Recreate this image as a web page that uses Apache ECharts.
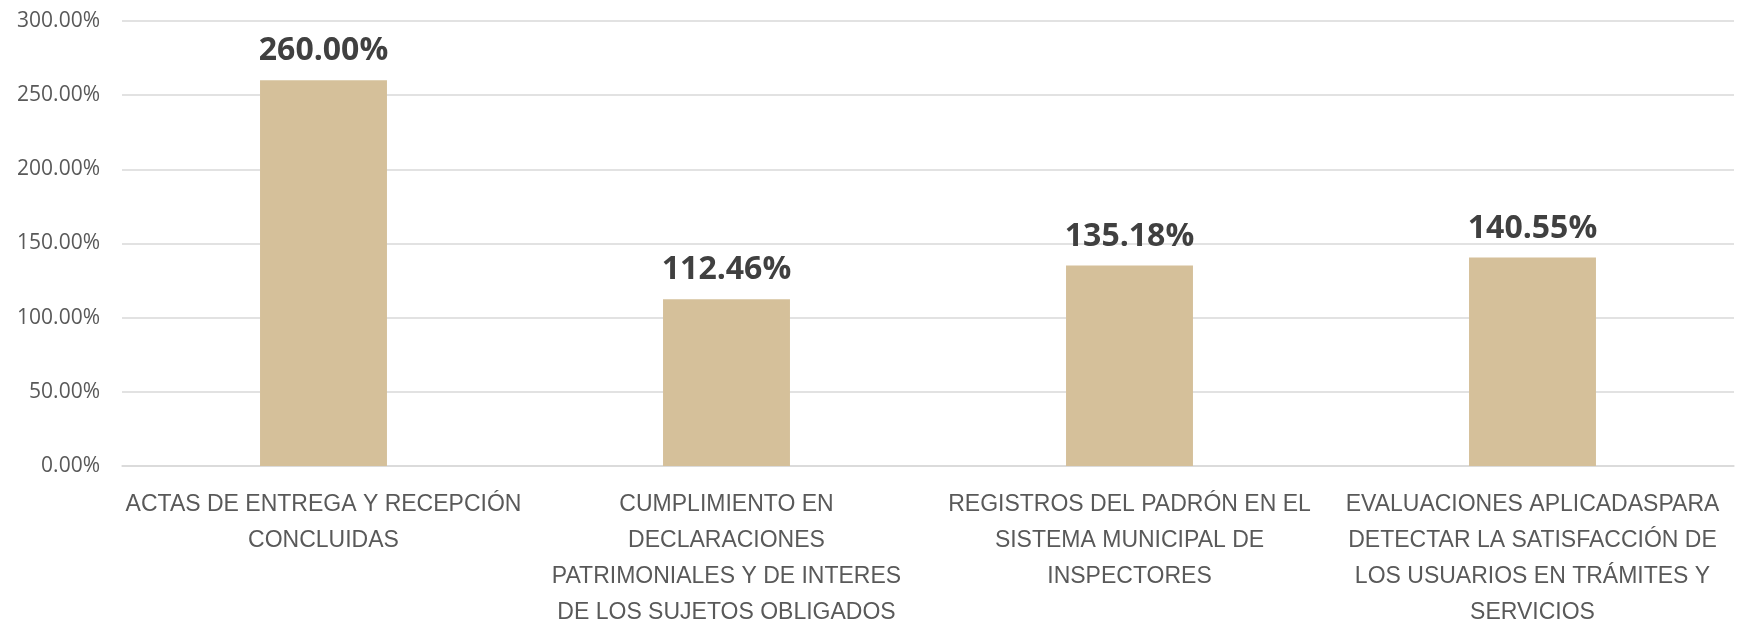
<!DOCTYPE html>
<html>
<head>
<meta charset="utf-8">
<script src="https://cdn.jsdelivr.net/npm/echarts@6/dist/echarts.min.js"></script>
<style>
  html, body { margin: 0; padding: 0; background: #fff; }
  #chart { width: 1737px; height: 622px; }
</style>
</head>
<body>
<div id="chart"></div>
<script>
const categories = [
  "ACTAS DE ENTREGA Y RECEPCIÓN\nCONCLUIDAS",
  "CUMPLIMIENTO EN\nDECLARACIONES\nPATRIMONIALES Y DE INTERES\nDE LOS SUJETOS OBLIGADOS",
  "REGISTROS DEL PADRÓN EN EL\nSISTEMA MUNICIPAL DE\nINSPECTORES",
  "EVALUACIONES APLICADASPARA\nDETECTAR LA SATISFACCIÓN DE\nLOS USUARIOS EN TRÁMITES Y\nSERVICIOS"
];
const values = [260.0, 112.46, 135.18, 140.55];

const chart = echarts.init(document.getElementById("chart"));

const option = {
  animation: false,
  grid: {
    left: 122,
    right: 3,
    top: 21,
    bottom: 156,
    outerBoundsMode: "none"
  },
  xAxis: {
    type: "category",
    data: categories,
    axisTick: { show: false },
    axisLine: { lineStyle: { color: "#d9d9d9", width: 1.5 } },
    axisLabel: {
      interval: 0,
      margin: 21,
      color: "#595959",
      fontFamily: "Liberation Sans, sans-serif",
      fontSize: 23,
      lineHeight: 36,
      align: "center"
    }
  },
  yAxis: {
    type: "value",
    min: 0,
    max: 300,
    interval: 50,
    axisLine: { show: false },
    axisTick: { show: false },
    splitLine: { lineStyle: { color: "#d9d9d9", width: 1.5 } },
    axisLabel: {
      margin: 22,
      color: "#595959",
      fontFamily: "Open Sans, sans-serif",
      fontSize: 21,
      formatter: (v) => v.toFixed(2) + "%"
    }
  },
  series: [
    {
      type: "bar",
      data: values,
      barWidth: "31.5%",
      itemStyle: { color: "#d5c09a" },
      label: {
        show: true,
        position: "top",
        distance: 13,
        color: "#404040",
        fontFamily: "Open Sans, sans-serif",
        fontWeight: "bold",
        fontSize: 32,
        formatter: (p) => p.value.toFixed(2) + "%"
      }
    }
  ]
};

chart.setOption(option);
window.addEventListener("resize", () => {
  chart.resize();
});
</script>
</body>
</html>
